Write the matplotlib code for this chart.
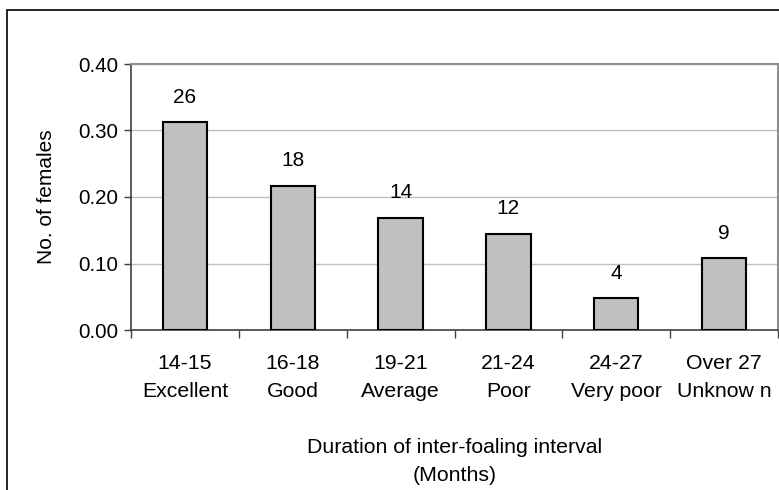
import matplotlib
matplotlib.use("Agg")
import matplotlib.pyplot as plt
from matplotlib.patches import Rectangle
from matplotlib.ticker import FormatStrFormatter, MultipleLocator

plt.rcParams['font.family'] = ['Liberation Sans', 'DejaVu Sans']

ranges = ["14-15", "16-18", "19-21", "21-24", "24-27", "Over 27"]
ratings = ["Excellent", "Good", "Average", "Poor", "Very poor", "Unknow n"]
counts = [26, 18, 14, 12, 4, 9]
proportions = [0.313, 0.217, 0.169, 0.145, 0.048, 0.108]

W, H = 779, 490
fig = plt.figure(figsize=(W / 100, H / 100), dpi=100)
ax = fig.add_axes([131 / W, 1 - 330 / H, (778 - 131) / W, (330 - 64) / H])

x = list(range(len(ranges)))
ax.bar(x, proportions, width=0.41, color="#c0c0c0", edgecolor="black", linewidth=1.5, zorder=3)
for xi, p, c in zip(x, proportions, counts):
    ax.annotate(str(c), (xi, p), xytext=(0, 11), textcoords="offset points",
                ha="center", va="bottom", fontsize=15)

ax.set_xlim(-0.5, len(ranges) - 0.5)
ax.set_ylim(0, 0.40)
ax.yaxis.set_major_locator(MultipleLocator(0.10))
ax.yaxis.set_major_formatter(FormatStrFormatter('%.2f'))
ax.grid(axis='y', color="#c0c0c0", linewidth=1, zorder=0)

ax.set_xticks([i - 0.5 for i in range(len(ranges) + 1)])
ax.set_xticklabels([])
ax.set_xticks(x, minor=True)
ax.set_xticklabels([f"{r}\n{g}" for r, g in zip(ranges, ratings)], minor=True,
                   fontsize=15.3, linespacing=1.62)
ax.tick_params(axis='x', which='minor', length=0, pad=17)
ax.tick_params(axis='x', which='major', length=6, width=1, color="#404040", direction='out')
ax.tick_params(axis='y', length=5, width=1, color="#404040", labelsize=14.8, pad=4)

for s in ['top', 'right']:
    ax.spines[s].set_color("#909090")
    ax.spines[s].set_linewidth(1.5)
for s in ['left', 'bottom']:
    ax.spines[s].set_color("#404040")
    ax.spines[s].set_linewidth(1.2)

ax.set_ylabel("No. of females", fontsize=15, labelpad=16)
ax.set_xlabel("Duration of inter-foaling interval\n(Months)", fontsize=15.3,
              linespacing=1.55, labelpad=27)

frame = Rectangle((6.5 / W, -0.5), 2, 0.5 + (1 - 10 / H), transform=fig.transFigure,
                  fill=False, edgecolor="black", linewidth=1.2)
fig.patches.append(frame)

fig.savefig("out.png", dpi=100)
